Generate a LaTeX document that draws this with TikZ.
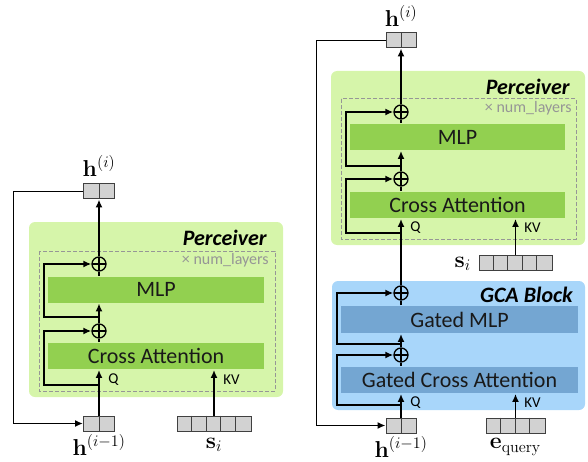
\RequirePackage{fix-cm}
\documentclass[tikz,border=0pt]{standalone}
\usepackage[no-math]{fontspec}
\setmainfont{Carlito}
\usetikzlibrary{arrows.meta}

\definecolor{percbg}{RGB}{214,245,170}
\definecolor{percbar}{RGB}{146,208,80}
\definecolor{gcabg}{RGB}{168,214,250}
\definecolor{gcabar}{RGB}{116,166,210}
\definecolor{cellgray}{RGB}{210,210,210}
\definecolor{loopgray}{RGB}{150,150,150}

\tikzset{
  arr/.style={-{Latex[length=8pt,width=7pt]}},
  bar/.style={minimum height=26pt, inner sep=0pt, text=black!90, font=\fontsize{22}{24}\selectfont},
  addnode/.style={circle, draw, minimum size=14pt, inner sep=0pt, line width=1.3pt,
    path picture={\draw[line width=1.3pt] (path picture bounding box.north) -- (path picture bounding box.south)
      (path picture bounding box.west) -- (path picture bounding box.east);}},
  vecbox/.style={draw=black!75, fill=cellgray, minimum height=15pt, inner sep=0pt, line width=1pt},
  cellline/.style={draw=black!75, line width=1pt},
  blocktitle/.style={anchor=east, font=\fontsize{22}{24}\selectfont\bfseries\itshape},
  layerlab/.style={anchor=east, text=loopgray, font=\fontsize{16}{18}\selectfont},
  portlab/.style={anchor=west, font=\fontsize{15}{16}\selectfont},
  veclab/.style={font=\fontsize{23}{26}\selectfont},
  loopbox/.style={draw=loopgray, dash pattern=on 4pt off 2pt, line width=1pt}
}

\begin{document}
\begin{tikzpicture}[x=1pt,y=-1pt,line width=1.9pt]
   \useasboundingbox (0,0) rectangle (588,462);

   % left: perceiver only
   \fill[percbg, rounded corners=6pt] (29,222) rectangle (283,397);
   \draw[loopbox] (39,251) rectangle (275,391);
   \node[blocktitle] (ptitleL) at (271,238) {Perceiver};
   \node[layerlab] (nlayL) at (273,260) {× num\_layers};

   \node[bar, fill=percbar, minimum width=216pt] (mlpL) at (156,289.5) {MLP};
   \node[bar, fill=percbar, minimum width=216pt] (caL) at (156,356) {Cross Attention};
   \node[addnode] (addAL) at (99,331) {};
   \node[addnode] (addBL) at (99,264) {};

   \node[vecbox, minimum width=31pt] (houtL) at (99,191.5) {};
   \node[vecbox, minimum width=31pt] (hinL) at (99,423.5) {};
   \node[vecbox, minimum width=74pt] (sL) at (214,423.5) {};
   \draw[cellline] (houtL.north) -- (houtL.south);
   \draw[cellline] (hinL.north) -- (hinL.south);
   \foreach \k in {1,...,4}
     \draw[cellline] ([xshift=\k*14.8pt]sL.north west) -- ([xshift=\k*14.8pt]sL.south west);

   \node[veclab] (houtlabL) at (99,166) {$\mathbf{h}^{(i)}$};
   \node[veclab] (hinlabL) at (99,445) {$\mathbf{h}^{(i-1)}$};
   \node[veclab] (slabL) at (214,445) {$\mathbf{s}_i$};

   \coordinate (qskipL) at (99,385);
   \coordinate (mskipL) at (99,317);
   \draw[arr] (hinL.north) -- (hinL.north |- caL.south);
   \draw (caL.north -| addAL) -- (addAL);
   \draw[arr] (addAL) -- (addAL |- mlpL.south);
   \draw (mlpL.north -| addBL) -- (addBL);
   \draw[arr] (addBL) -- (houtL.south);
   \draw[arr] (qskipL) -- ++(-55,0) |- (addAL.west);
   \draw[arr] (mskipL) -- ++(-55,0) |- (addBL.west);
   \draw[arr] (sL.north) -- (sL.north |- caL.south);
   \draw[arr] (houtL.west) -- ++(-69.5,0) |- (hinL.west);
   \node[portlab] (qL) at (104,380) {Q};
   \node[portlab] (kvL) at (219,380) {KV};

   % right: GCA block then perceiver
   \fill[percbg, rounded corners=6pt] (331,71) rectangle (585,245);
   \draw[loopbox] (341,99) rectangle (576,239);
   \node[blocktitle] (ptitleR) at (574,87) {Perceiver};
   \node[layerlab] (nlayR) at (576,108) {× num\_layers};

   \node[bar, fill=percbar, minimum width=215pt] (mlpR) at (457.5,137) {MLP};
   \node[bar, fill=percbar, minimum width=215pt] (caR) at (457.5,205) {Cross Attention};
   \node[addnode] (addAR) at (401,179) {};
   \node[addnode] (addBR) at (401,112) {};

   \fill[gcabg, rounded corners=6pt] (332,281) rectangle (585,410);
   \node[blocktitle] (gtitle) at (577,295) {GCA Block};
   \node[bar, fill=gcabar, minimum width=237pt, minimum height=27pt] (gmlp) at (459.5,319.5) {Gated MLP};
   \node[bar, fill=gcabar, minimum width=237pt] (gca) at (459.5,380) {Gated Cross Attention};
   \node[addnode] (gaddA) at (401,355) {};
   \node[addnode] (gaddB) at (401,293) {};

   \node[vecbox, minimum width=30pt] (houtR) at (401,40.5) {};
   \node[vecbox, minimum width=30pt] (hinR) at (401,425.5) {};
   \node[vecbox, minimum width=73pt] (sR) at (515.5,263) {};
   \node[vecbox, minimum width=59pt] (eR) at (515.5,425.5) {};
   \draw[cellline] (houtR.north) -- (houtR.south);
   \draw[cellline] (hinR.north) -- (hinR.south);
   \foreach \k in {1,...,4}
     \draw[cellline] ([xshift=\k*14.6pt]sR.north west) -- ([xshift=\k*14.6pt]sR.south west);
   \foreach \k in {1,...,3}
     \draw[cellline] ([xshift=\k*14.75pt]eR.north west) -- ([xshift=\k*14.75pt]eR.south west);

   \node[veclab] (houtlabR) at (401,16) {$\mathbf{h}^{(i)}$};
   \node[veclab] (hinlabR) at (401,447) {$\mathbf{h}^{(i-1)}$};
   \node[veclab, anchor=east] (slabR) at (475,264) {$\mathbf{s}_i$};
   \node[veclab] (elabR) at (515.5,447) {$\mathbf{e}_{\mathrm{query}}$};

   \coordinate (qskipG) at (401,405);
   \coordinate (mskipG) at (401,344);
   \coordinate (qskipR) at (401,233);
   \coordinate (mskipR) at (401,166);
   \draw[arr] (hinR.north) -- (hinR.north |- gca.south);
   \draw (gca.north -| gaddA) -- (gaddA);
   \draw[arr] (gaddA) -- (gaddA |- gmlp.south);
   \draw (gmlp.north -| gaddB) -- (gaddB);
   \draw[arr] (gaddB) -- (gaddB |- caR.south);
   \draw (caR.north -| addAR) -- (addAR);
   \draw[arr] (addAR) -- (addAR |- mlpR.south);
   \draw (mlpR.north -| addBR) -- (addBR);
   \draw[arr] (addBR) -- (houtR.south);
   \draw[arr] (qskipG) -- ++(-64,0) |- (gaddA.west);
   \draw[arr] (mskipG) -- ++(-64,0) |- (gaddB.west);
   \draw[arr] (qskipR) -- ++(-55,0) |- (addAR.west);
   \draw[arr] (mskipR) -- ++(-55,0) |- (addBR.west);
   \draw[arr] (sR.north) -- (sR.north |- caR.south);
   \draw[arr] (eR.north) -- (eR.north |- gca.south);
   \draw[arr] (houtR.west) -- ++(-69,0) |- (hinR.west);
   \node[portlab] (qR) at (406,228) {Q};
   \node[portlab] (kvR) at (520,228) {KV};
   \node[portlab] (qgR) at (406,403) {Q};
   \node[portlab] (kvgR) at (520,403) {KV};
\end{tikzpicture}
\end{document}
